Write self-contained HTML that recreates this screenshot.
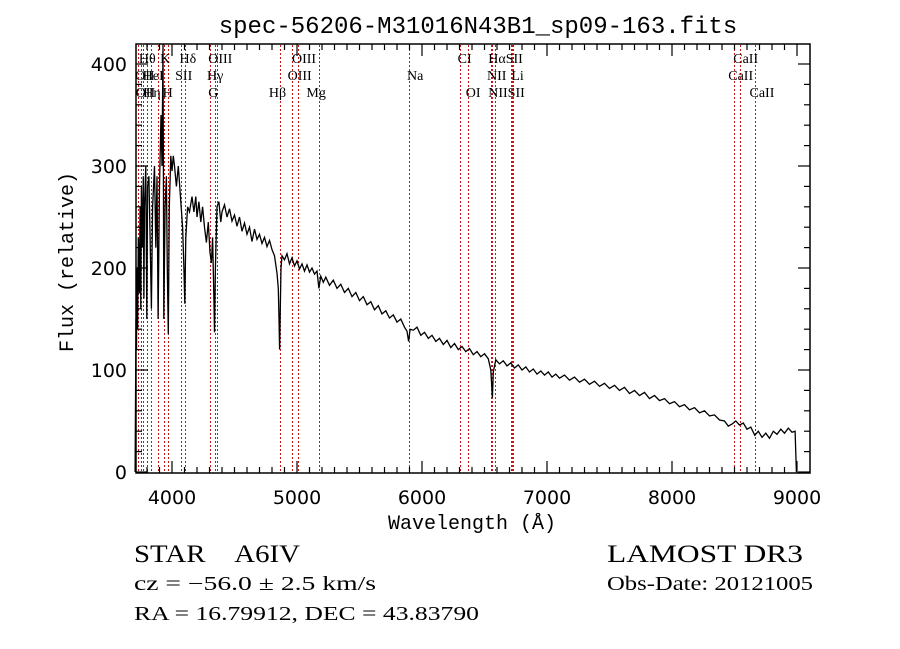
<!DOCTYPE html>
<html><head><meta charset="utf-8"><style>
html,body{margin:0;padding:0;background:#fff;width:900px;height:649px;overflow:hidden}
svg{display:block}
text{fill:#000}
.ax{font-family:"Liberation Mono",monospace;font-size:20px}
.tk{font-family:"DejaVu Sans","Liberation Sans",sans-serif;font-size:19px}
.ln{font-family:"Liberation Serif",serif;font-size:14px}
.info{font-family:"Liberation Serif",serif}
</style></head><body>
<svg id="chart" width="900" height="649" viewBox="0 0 900 649">
<text x="478" y="33" text-anchor="middle" class="ax" style="font-size:24px">spec-56206-M31016N43B1_sp09-163.fits</text>
<g id="lines"></g>
<g id="linelabels"></g>
<path id="spec" fill="none" stroke="#000" stroke-width="1.3"/>
<rect x="136" y="44" width="674" height="429" fill="none" stroke="#000" stroke-width="1.5"/>
<g id="ticks"></g>
<text transform="translate(73,262) rotate(-90)" text-anchor="middle" class="ax">Flux (relative)</text>
<text x="472" y="529" text-anchor="middle" class="ax">Wavelength (Å)</text>
<text x="134" y="562" class="info" style="font-size:25px" textLength="166" lengthAdjust="spacingAndGlyphs">STAR&#160;&#160;&#160;&#160;A6IV</text>
<text x="134" y="590" class="info" style="font-size:20px" textLength="242" lengthAdjust="spacingAndGlyphs">cz = −56.0 ± 2.5 km/s</text>
<text x="134" y="620" class="info" style="font-size:20px" textLength="345" lengthAdjust="spacingAndGlyphs">RA =  16.79912, DEC =  43.83790</text>
<text x="607" y="562" class="info" style="font-size:25px" textLength="196" lengthAdjust="spacingAndGlyphs">LAMOST DR3</text>
<text x="607" y="590" class="info" style="font-size:20px" textLength="206" lengthAdjust="spacingAndGlyphs">Obs-Date: 20121005</text>
</svg>
<script>
const wavelengths=[3705,3712,3716,3720,3725,3730,3738,3745,3750,3755,3762,3770,3775,3780,3790,3798,3805,3815,3825,3835,3845,3860,3870,3880,3889,3900,3912,3920,3928,3931,3934,3945,3955,3962,3970,3978,3990,4000,4010,4020,4035,4050,4070,4085,4095,4102,4110,4125,4140,4160,4175,4190,4200,4215,4230,4245,4260,4275,4290,4304,4315,4325,4335,4340,4347,4360,4375,4390,
4400,4420,4440,4460,4480,4500,4520,4540,4560,4580,4600,4620,4640,4660,4680,4700,4720,4740,4760,4780,4800,4820,4840,4850,4856,4861,4866,4872,4880,4900,4920,4940,4960,4980,5000,5020,5040,5060,5080,5100,5120,5140,5160,5175,5190,5210,5230,5260,5290,5320,5350,5380,5410,5440,5470,5500,5530,5560,5590,5620,5650,5680,5710,5740,5770,5800,5830,5860,5880,5893,5905,5930,5960,5990,6020,6050,6080,6110,6140,6170,6200,6230,6260,6290,6320,6350,6380,6410,6440,6470,6500,6530,6550,6563,6570,6590,6620,6650,6680,6710,6740,6770,6800,6830,6860,6890,6920,6950,6980,7010,7040,7070,7100,7140,7180,7220,7260,7300,7340,7380,7420,7460,7500,7540,7580,7620,7660,7700,7740,7780,7820,7860,7900,7940,7980,8020,8060,8100,8140,8180,8220,8260,8300,8340,8380,8420,8450,8480,8510,8540,8570,8600,8630,8662,8690,8720,8750,8780,8810,8840,8870,8900,8930,8960,8985,8995];
const fluxes=[0,150,120,200,140,230,175,260,160,280,220,290,170,260,300,150,280,290,230,160,260,300,220,290,150,280,350,300,420,300,150,260,290,200,135,260,310,295,310,300,280,300,265,240,200,165,230,260,255,270,255,270,250,265,245,260,240,225,245,215,205,230,170,137,200,260,265,245,
255,262,250,258,246,252,241,250,236,244,233,240,226,238,228,233,224,230,221,227,218,212,195,180,150,120,160,200,212,208,214,204,210,202,207,199,204,197,203,196,200,194,197,180,192,186,191,183,188,180,184,176,180,172,176,168,172,164,167,159,163,155,158,151,154,147,150,142,138,128,140,139,142,134,137,131,134,128,131,125,129,122,126,120,123,118,121,115,118,113,116,111,100,73,98,110,106,109,104,107,102,105,100,103,98,101,96,99,95,98,93,96,92,95,90,93,88,91,86,89,84,87,82,85,80,83,77,80,75,78,72,75,70,72,67,69,64,66,61,63,58,60,55,56,51,50,45,47,50,46,48,42,44,36,40,34,38,33,40,37,42,38,43,39,40,0];
const lineWaves=[3727,3750,3771,3798,3835,3889,3934,3968,4072,4102,4304,4340,4363,4861,4959,5007,5175,5893,6300,6364,6548,6563,6583,6708,6717,6731,8498,8542,8662];
const labelNames=["Hθ","K","Hδ","OIII","OIII","CI","HαSII","CaII","OII","HeI","SII","Hγ","OIII","Na","NII","Li","CaII","OII","Hη","H","G","Hβ","Mg","OI","NIISII","CaII"];
const labelWaves=[3735,3905,4060,4290,4960,6285,6530,8490,3705,3765,4025,4280,4925,5880,6520,6715,8450,3710,3770,3925,4290,4775,5075,6350,6530,8620];
const labelRows=[0,0,0,0,0,0,0,0,1,1,1,1,1,1,1,1,1,2,2,2,2,2,2,2,2,2];
const xTicks=[4000,5000,6000,7000,8000,9000];
const yTicks=[0,100,200,300,400];
const NS="http://www.w3.org/2000/svg";
function X(w){return 172+(w-4000)*0.125;}
function Y(f){return 472-f*1.02;}
let d="";
for(let i=0;i<wavelengths.length;i++){d+=(i?"L":"M")+X(wavelengths[i]).toFixed(1)+" "+Y(Math.max(-5,Math.min(420,fluxes[i]))).toFixed(1);}
document.getElementById('spec').setAttribute('d',d);
const lg=document.getElementById('lines');
lineWaves.forEach(w=>{const l=document.createElementNS(NS,'line');
const x=Math.round(X(w))+0.5;
l.setAttribute('x1',x);l.setAttribute('x2',x);l.setAttribute('y1',45);l.setAttribute('y2',472);
l.setAttribute('stroke','rgb(200,20,20)');l.setAttribute('stroke-width','1');l.setAttribute('stroke-dasharray','2 2');
l.setAttribute('shape-rendering','crispEdges');


lg.appendChild(l);});
const ll=document.getElementById('linelabels');
labelNames.forEach((n,i)=>{const t=document.createElementNS(NS,'text');
t.setAttribute('x',X(labelWaves[i]));t.setAttribute('y',63+labelRows[i]*17);t.setAttribute('class','ln');t.textContent=n;


ll.appendChild(t);});
const tg=document.getElementById('ticks');
function tick(x1,y1,x2,y2){const l=document.createElementNS(NS,'line');l.setAttribute('x1',x1);l.setAttribute('y1',y1);l.setAttribute('x2',x2);l.setAttribute('y2',y2);l.setAttribute('stroke','#000');l.setAttribute('stroke-width','1.2');


tg.appendChild(l);}
for(let w=3800;w<=9100;w+=100){const big=w%1000===0;const x=X(w);if(x<137||x>809)continue;const L=big?12:6;tick(x,473,x,473-L);tick(x,44,x,44+L);}
for(let f=0;f<=420;f+=20){const big=f%100===0;const y=Y(f);if(y<44)continue;const L=big?12:6;tick(136,y,136+L,y);tick(810,y,810-L,y);}
xTicks.forEach(w=>{const t=document.createElementNS(NS,'text');t.setAttribute('x',X(w));t.setAttribute('y',504);t.setAttribute('text-anchor','middle');t.setAttribute('class','tk');t.textContent=w;


tg.appendChild(t);});
yTicks.forEach(f=>{const t=document.createElementNS(NS,'text');t.setAttribute('x',127);t.setAttribute('y',Y(f)+7);t.setAttribute('text-anchor','end');t.setAttribute('class','tk');t.textContent=f;


tg.appendChild(t);});
</script>
</body></html>
